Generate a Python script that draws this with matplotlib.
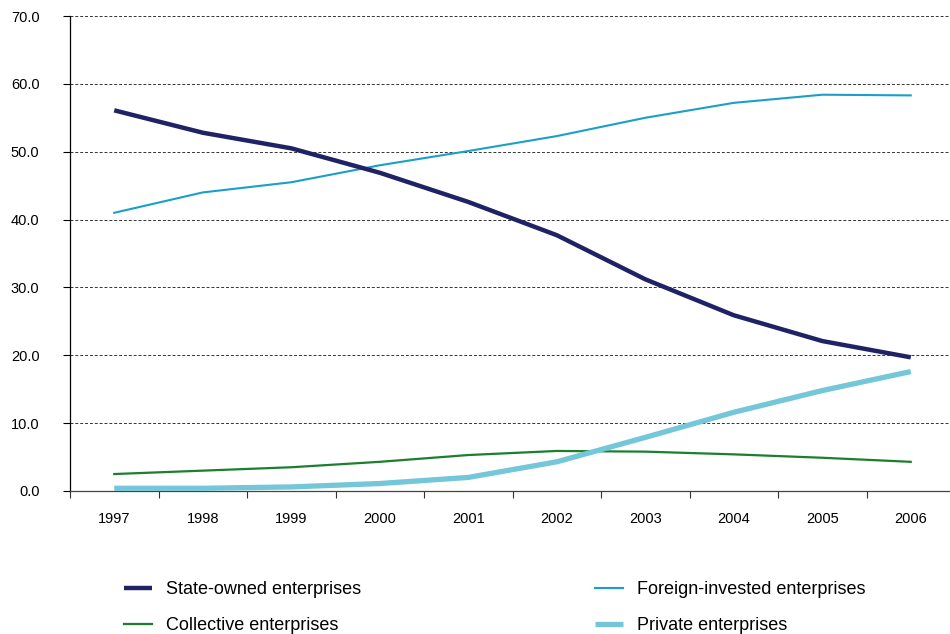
import matplotlib
matplotlib.use("Agg")
import matplotlib.pyplot as plt
import numpy as np

plt.rcParams['font.family'] = ['Liberation Sans', 'DejaVu Sans']

years = ['1997', '1998', '1999', '2000', '2001', '2002', '2003', '2004', '2005', '2006']
state_owned = [56.1, 52.8, 50.5, 46.9, 42.6, 37.7, 31.2, 25.9, 22.1, 19.7]
foreign = [41.0, 44.0, 45.5, 48.0, 50.1, 52.3, 55.0, 57.2, 58.4, 58.3]
collective = [2.5, 3.0, 3.5, 4.3, 5.3, 5.9, 5.8, 5.4, 4.9, 4.3]
private = [0.4, 0.4, 0.6, 1.1, 2.0, 4.3, 7.9, 11.6, 14.8, 17.6]
yticks = [0, 10, 20, 30, 40, 50, 60, 70]

W, H = 950, 634
fig = plt.figure(figsize=(W/100, H/100), dpi=100)
ax = fig.add_axes([70/W, 1 - 491/H, 885/W, (491 - 16)/H])
ax.patch.set_visible(False)

x = np.arange(len(years))
l1, = ax.plot(x, state_owned, color='#1F2366', lw=3.2, solid_capstyle='butt', zorder=4)
l2, = ax.plot(x, foreign, color='#1AA0C8', lw=1.5, zorder=3)
l3, = ax.plot(x, collective, color='#1B7F2E', lw=1.6, zorder=3)
l4, = ax.plot(x, private, color='#74C6D9', lw=3.8, solid_capstyle='butt', zorder=5)

ax.set_xlim(-0.5, len(years) - 0.5)
ax.set_ylim(0, 70)
ax.set_yticks(yticks)
ax.set_yticklabels([f"{v:.1f}" for v in yticks], fontsize=10.5)
ax.set_xticks(np.arange(-0.5, len(years) - 0.5, 1.0))
ax.set_xticklabels([])
ax.set_xticks(x, minor=True)
ax.set_xticklabels(years, minor=True, fontsize=10.5)
ax.tick_params(axis='x', which='minor', length=0, pad=15)
ax.tick_params(axis='x', which='major', length=5, width=0.8, direction='out', color='#333333')
ax.tick_params(axis='y', length=5, width=0.8, direction='out', pad=17)

ax.yaxis.grid(True, linestyle=(0, (3, 2)), color='#333333', lw=0.7)
ax.set_axisbelow(True)
for s in ['top', 'right']:
    ax.spines[s].set_visible(False)
ax.spines['left'].set_linewidth(0.9)
ax.spines['bottom'].set_linewidth(0.9)
ax.spines['bottom'].set_color('#444444')

leg = fig.legend([l1, l3, l2, l4],
                 ['State-owned enterprises', 'Collective enterprises',
                  'Foreign-invested enterprises', 'Private enterprises'],
                 ncol=2, loc='upper left', bbox_to_anchor=(124/W, 1 - 581/H),
                 frameon=False, fontsize=13, handlelength=1.55, handletextpad=0.75,
                 columnspacing=13.0, labelspacing=1.08, borderpad=0, borderaxespad=0)

fig.savefig('out.png', dpi=100)
